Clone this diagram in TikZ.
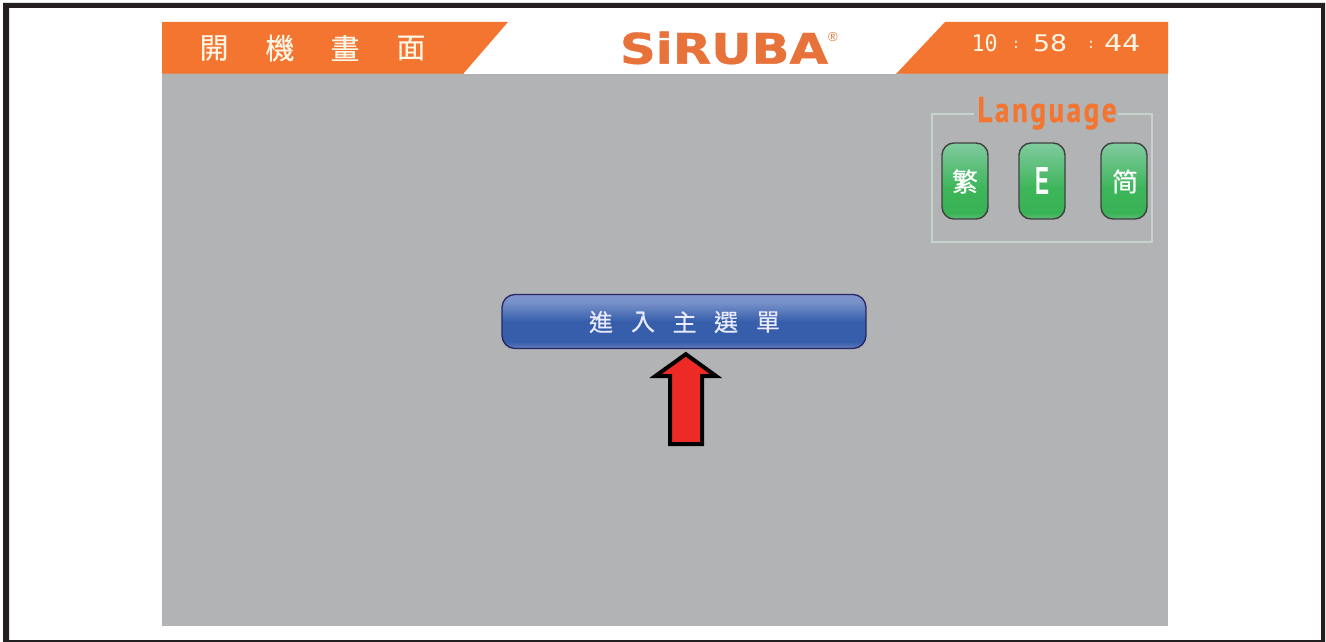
\documentclass[tikz,border=0pt]{standalone}
\usepackage{fontspec}
\setmainfont{Liberation Sans}
\newfontfamily\cjktc[FakeBold=0.4]{Noto Sans CJK TC}
\newfontfamily\cjksc[FakeBold=0.4]{Noto Sans CJK SC}
\newfontfamily\langfont[LetterSpace=9,FakeBold=0.8]{PT Sans Bold}
\newfontfamily\logofont[FakeBold=1]{DejaVu Sans Bold}
\newfontfamily\clockfont{DejaVu Sans Mono}
\newfontfamily\efont{Liberation Sans Bold}
\definecolor{framek}{HTML}{231F20}
\definecolor{hdr}{HTML}{F47530}
\definecolor{hdredge}{HTML}{E08A5A}
\definecolor{screen}{HTML}{B1B3B5}
\definecolor{cream}{HTML}{FBF6E6}
\definecolor{boxline}{HTML}{C5D3CD}
\definecolor{logoc}{HTML}{E8733A}
\definecolor{arrowred}{HTML}{EE2A27}
\pgfdeclareverticalshading{greenbtn}{100bp}{
  rgb(0bp)=(0.36,0.72,0.47);
  rgb(25bp)=(0.36,0.72,0.47);
  rgb(27bp)=(0.30,0.72,0.40);
  rgb(29bp)=(0.22,0.70,0.33);
  rgb(45bp)=(0.24,0.71,0.35);
  rgb(70bp)=(0.46,0.78,0.58);
  rgb(75bp)=(0.50,0.80,0.62);
  rgb(100bp)=(0.50,0.80,0.62)}
\pgfdeclareverticalshading{bluebtn}{100bp}{
  rgb(0bp)=(0.42,0.50,0.73);
  rgb(25bp)=(0.42,0.50,0.73);
  rgb(28bp)=(0.30,0.43,0.70);
  rgb(31bp)=(0.21,0.37,0.67);
  rgb(50bp)=(0.21,0.37,0.67);
  rgb(68bp)=(0.47,0.57,0.79);
  rgb(75bp)=(0.50,0.58,0.80);
  rgb(100bp)=(0.50,0.58,0.80)}
\tikzset{
  x=1pt,y=-1pt,
  hdrtext/.style={inner sep=0pt,text=cream,font=\cjktc\fontsize{29}{29}\selectfont},
  menutext/.style={inner sep=0pt,text=white!92!blue,font=\cjktc\fontsize{24}{24}\selectfont},
  clocktext/.style={inner sep=0pt,text=cream,font=\clockfont\fontsize{24}{24}\selectfont},
  langbtn/.style={draw=black!75,line width=1.4pt,rounded corners=12pt,shading=greenbtn},
  btnlabel/.style={inner sep=0pt,text=white,font=\cjktc\fontsize{26}{26}\selectfont},
  mainbtn/.style={draw=black!70!blue!85!white,line width=1.3pt,rounded corners=13pt,shading=bluebtn},
  arrowshape/.style={draw=black,fill=arrowred,line width=4pt,miter limit=10,line join=miter},
}
\begin{document}
\begin{tikzpicture}
\useasboundingbox (0,0) rectangle (1326,642);
\fill[white] (0,0) rectangle (1326,642);
% outer frame
\fill[framek,even odd rule] (3,3) rectangle (1325,642) (9,8) rectangle (1321,640);
% screen
\fill[screen] (162,74) rectangle (1168,626);
% header bands
\fill[hdr] (162,22) -- (508,22) -- (463,74) -- (162,74) -- cycle;
\fill[hdr] (945,22) -- (1168,22) -- (1168,74) -- (896,74) -- cycle;
\draw[hdredge,line width=1pt] (162,73.5) -- (463.5,73.5) (896.5,73.5) -- (1168,73.5);
\node[hdrtext] (t1) at (214,48) {開};
\node[hdrtext] (t2) at (280,48) {機};
\node[hdrtext] (t3) at (345,48) {畫};
\node[hdrtext] (t4) at (411,48) {面};
% logo
\node[inner sep=0pt,text=logoc,anchor=center] (logo) at (724,48)
  {\resizebox{208pt}{32pt}{\logofont SiRUBA}};
\node[inner sep=0pt,text=logoc,font=\fontsize{13}{13}\selectfont] (reg) at (833,37) {®};
% clock
\node[clocktext] (hh) at (984.5,43.5) {\resizebox{26pt}{17pt}{10}};
\node[clocktext] (c1) at (1016,45) {\fontsize{14}{14}\selectfont :};
\node[clocktext] (mm) at (1050,43.5) {\resizebox{34pt}{17pt}{58}};
\node[clocktext] (c2) at (1091,45) {\fontsize{14}{14}\selectfont :};
\node[clocktext] (ss) at (1122,43.5) {\resizebox{36pt}{17pt}{44}};
% language box
\draw[boxline,line width=2pt] (974,114) -- (932,114) -- (932,242) -- (1152,242) -- (1152,114) -- (1118,114);
\node[inner sep=0pt,text=hdr,anchor=base] (lang) at (1047,122)
  {\resizebox{139pt}{25pt}{\langfont Language}};
% language buttons
\shade[langbtn] (942,143) rectangle (988,219);
\shade[langbtn] (1019,143) rectangle (1065,219);
\shade[langbtn] (1101,143) rectangle (1147,219);
\node[btnlabel] (b1) at (965,181.5) {繁};
\node[inner sep=0pt,text=white] (b2) at (1042,181) {\resizebox{14pt}{27pt}{\efont E}};
\node[btnlabel,font=\cjksc\fontsize{26}{26}\selectfont] (b3) at (1125,181.5) {简};
% main button
\shade[mainbtn] (502,294.5) rectangle (866,348.5);
\node[menutext] (m1) at (601,322) {進};
\node[menutext] (m2) at (643,322) {入};
\node[menutext] (m3) at (684.5,322) {主};
\node[menutext] (m4) at (726,322) {選};
\node[menutext] (m5) at (768,322) {單};
% arrow
\draw[arrowshape] (685.8,354.2) -- (716,376) -- (702,376) -- (702,444) -- (670,444) -- (670,376) -- (655.5,376) -- cycle;
\end{tikzpicture}
\end{document}
